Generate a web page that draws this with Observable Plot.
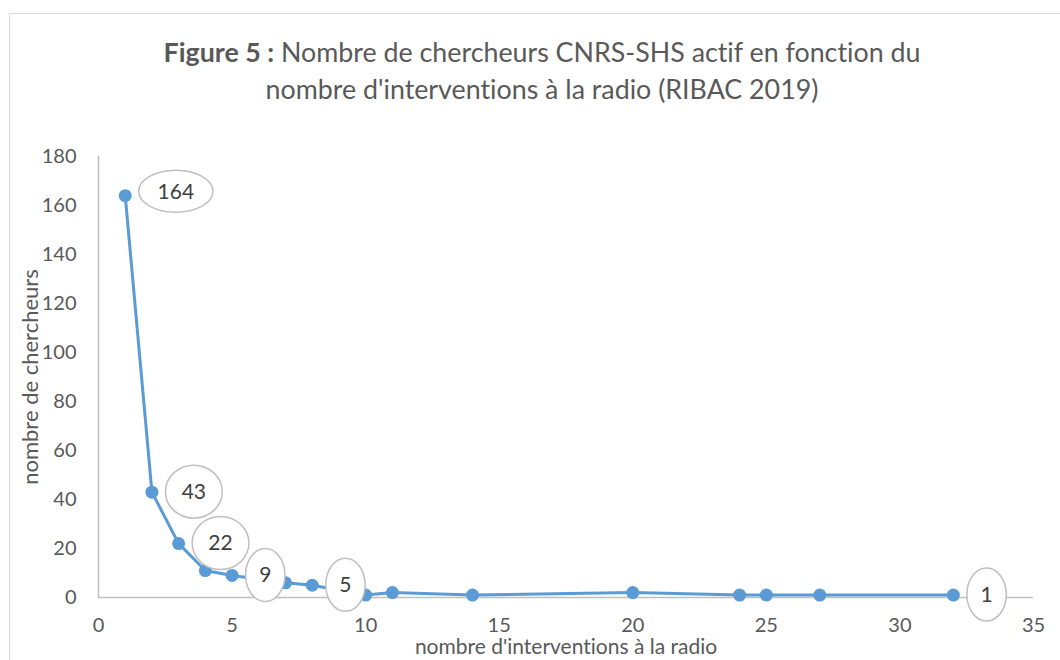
<!DOCTYPE html>
<html><head><meta charset="utf-8">
<script src="https://cdn.jsdelivr.net/npm/d3@7"></script>
<script src="https://cdn.jsdelivr.net/npm/@observablehq/plot@0.6"></script>
<style>
body{margin:0;width:1060px;height:660px;overflow:hidden;background:#fff;position:relative;font-family:Lato,sans-serif;font-variant-ligatures:none}
svg text{font-variant-ligatures:none}
#frame{position:absolute;left:9px;top:13px;width:1100px;height:700px;border:1.5px solid #d9d9d9;box-sizing:border-box}
#title{position:absolute;left:0;width:1084px;top:34px;text-align:center;color:#595959;font-size:26.8px;line-height:37px}
#chart{position:absolute;left:0;top:0}
</style></head><body>
<div id="frame"></div>
<div id="chart"></div>
<div id="title"><b>Figure 5 :</b> Nombre de chercheurs CNRS-SHS actif en fonction du<br>nombre d'interventions à la radio (RIBAC 2019)</div>
<script>
const interventions = [1, 2, 3, 4, 5, 7, 8, 10, 11, 14, 20, 24, 25, 27, 32];
const chercheurs = [164, 43, 22, 11, 9, 6, 5, 1, 2, 1, 2, 1, 1, 1, 1];
const labelledX = [1, 2, 3, 5, 8, 32];
const xTicks = [0, 5, 10, 15, 20, 25, 30, 35];
const yTicks = [0, 20, 40, 60, 80, 100, 120, 140, 160, 180];
const xTitle = "nombre d'interventions à la radio";
const yTitle = "nombre de chercheurs";

const data = interventions.map((x, i) => ({x, y: chercheurs[i]}));
const labelData = data.filter(d => labelledX.includes(d.x));

const chart = Plot.plot({
  width: 1060, height: 660,
  marginLeft: 98, marginRight: 27, marginTop: 156, marginBottom: 63,
  style: {fontFamily: "Lato, sans-serif", fontSize: "20px", color: "#595959", background: "transparent"},
  x: {domain: [0, 35], ticks: xTicks},
  y: {domain: [0, 180], ticks: yTicks},
  marks: [
    Plot.ruleY([0], {stroke: "#bfbfbf", strokeWidth: 1.5}),
    Plot.ruleX([0], {stroke: "#bfbfbf", strokeWidth: 1.5}),
    Plot.axisX({ticks: xTicks, tickSize: 0, tickPadding: 20, label: null, fill: "#595959"}),
    Plot.axisY({ticks: yTicks, tickSize: 0, tickPadding: 22, label: null, fill: "#595959"}),
    Plot.line(data, {x: "x", y: "y", stroke: "#5b9bd5", strokeWidth: 3}),
    Plot.dot(data, {x: "x", y: "y", r: 6.5, fill: "#5b9bd5"}),
    Plot.dot(labelData, {x: "x", y: "y", render(index, scales, values) {
      const g = d3.create("svg:g");
      for (const i of index) {
        const s = String(labelData[i].y);
        const rx = 11 + 8.7 * s.length;
        const ry = s.length > 2 ? 21 : 26.5;
        const cx = values.x[i] + 14 + rx;
        const cy = values.y[i] - (s.length > 2 ? 4 : 0);
        g.append("ellipse").attr("cx", cx).attr("cy", cy).attr("rx", rx).attr("ry", ry)
          .attr("fill", "white").attr("stroke", "#bfbfbf").attr("stroke-width", 1.5);
        g.append("text").attr("x", cx).attr("y", cy).attr("dy", "0.35em")
          .attr("text-anchor", "middle").attr("fill", "#404040")
          .attr("font-size", 21).attr("font-family", "Lato, sans-serif").text(s);
      }
      return g.node();
    }}),
    Plot.text([yTitle], {frameAnchor: "left", textAnchor: "middle", dx: -68, rotate: -90, fill: "#595959", fontSize: 22}),
    Plot.text([xTitle], {frameAnchor: "bottom", textAnchor: "middle", dy: 56, fill: "#595959", fontSize: 21})
  ]
});
document.getElementById("chart").appendChild(chart);
</script>
</body></html>
